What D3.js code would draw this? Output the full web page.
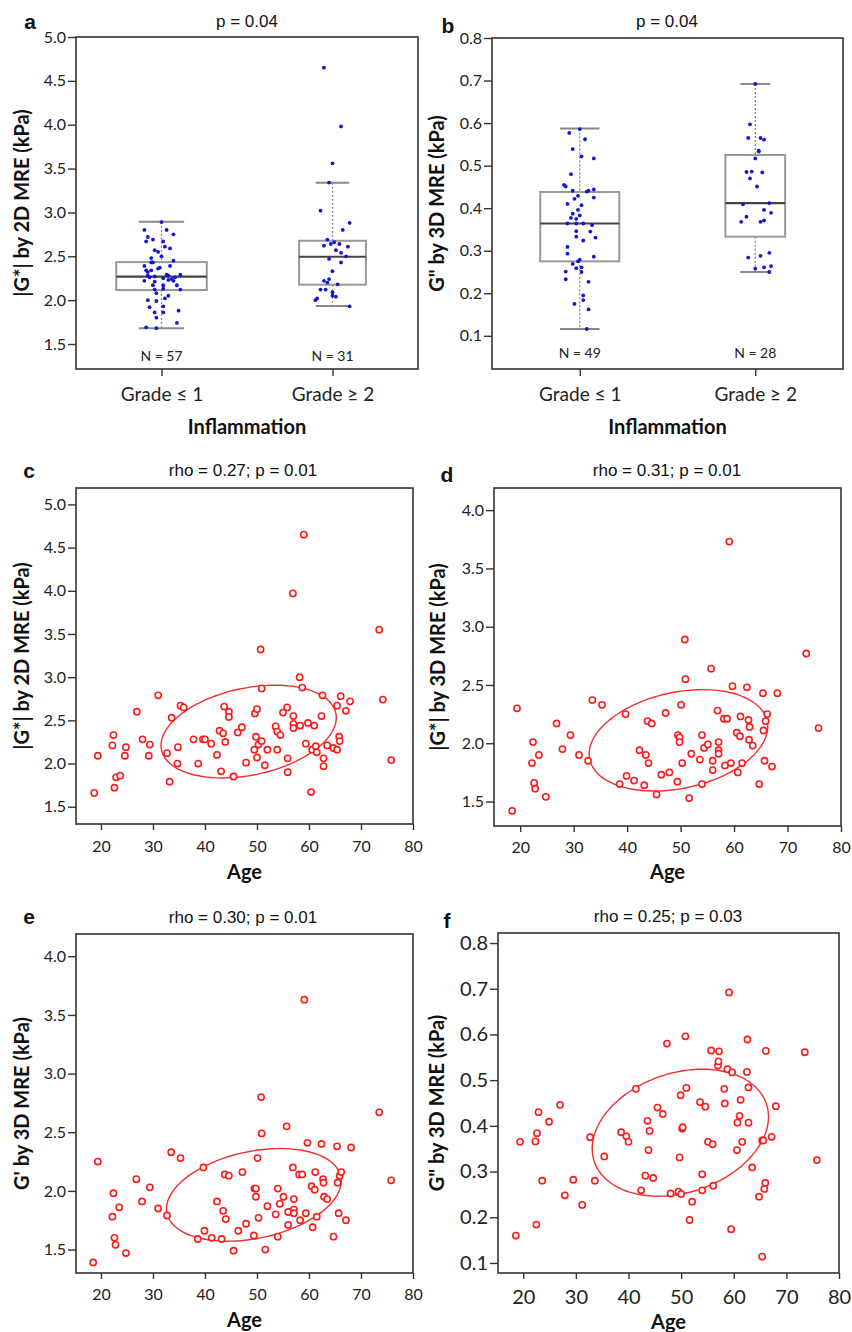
<!DOCTYPE html>
<html>
<head>
<meta charset="utf-8">
<script src="https://cdn.jsdelivr.net/npm/d3@7"></script>
<style>
  body { margin: 0; background: #fff; }
  .tick text { fill: #222; }
</style>
</head>
<body>
<div id="chart"></div>
<script>
// ---- DATA ----
const grades = ["Grade ≤ 1", "Grade ≥ 2"];

// panel a: |G*| by 2D MRE, jitter given as fraction of category step
const aLowVals = [2.89,2.80,2.80,2.75,2.72,2.67,2.69,2.67,2.61,2.59,2.57,2.55,2.50,2.48,2.45,2.43,2.43,2.39,2.37,2.36,2.39,2.34,2.32,2.34,2.28,2.27,2.29,2.28,2.29,2.26,2.26,2.24,2.22,2.25,2.23,2.22,2.17,2.17,2.17,2.12,2.13,2.12,2.08,2.05,2.02,2.00,1.99,1.92,1.93,1.86,1.88,1.86,1.80,1.74,1.69,1.68,2.21];
const aLowJit = [0.00,-0.10,0.03,0.07,-0.08,-0.09,-0.05,0.01,0.02,0.05,-0.04,-0.02,0.00,-0.06,0.07,-0.06,-0.05,-0.10,-0.01,-0.02,0.05,-0.09,-0.08,-0.06,-0.08,-0.04,0.03,0.04,0.11,0.08,-0.07,0.06,-0.10,0.01,0.04,0.07,-0.05,0.01,0.09,-0.04,0.01,0.11,-0.03,0.04,0.02,-0.08,-0.03,-0.07,0.01,-0.04,0.10,0.01,-0.03,0.09,-0.09,-0.03,-0.04];
const aHighVals = [4.65,3.98,3.56,3.34,3.02,2.88,2.80,2.69,2.64,2.66,2.64,2.62,2.61,2.57,2.54,2.50,2.47,2.43,2.33,2.24,2.22,2.20,2.18,2.12,2.12,2.09,2.05,2.04,2.02,2.00,1.93];
const aHighJit = [-0.05,0.05,0.00,-0.02,-0.07,0.10,0.06,-0.03,-0.01,0.01,0.04,-0.05,0.09,0.02,0.05,0.08,-0.02,0.05,0.00,-0.02,-0.05,-0.03,0.03,-0.07,-0.04,0.00,0.00,0.02,-0.09,-0.10,0.10];
// [whisker low, Q1, median, Q3, whisker high]
const aStats = [[1.68, 2.115, 2.267, 2.434, 2.893], [1.933, 2.176, 2.495, 2.677, 3.337]];

// panel b: G'' by 3D MRE
const bLowVals = [0.586,0.577,0.562,0.539,0.522,0.517,0.480,0.455,0.451,0.441,0.441,0.444,0.439,0.429,0.422,0.425,0.410,0.407,0.396,0.387,0.383,0.377,0.375,0.364,0.364,0.364,0.360,0.346,0.345,0.333,0.331,0.324,0.309,0.293,0.286,0.279,0.275,0.269,0.259,0.261,0.251,0.250,0.233,0.227,0.195,0.184,0.175,0.162,0.116];
const bLowJit = [0.00,-0.06,0.03,-0.04,0.01,0.08,-0.05,-0.09,-0.08,-0.04,0.05,0.08,0.04,-0.01,-0.03,0.08,-0.07,0.01,-0.01,-0.04,0.00,-0.05,-0.02,-0.07,-0.02,0.02,0.07,-0.02,0.06,-0.02,0.09,0.02,-0.07,-0.07,0.08,0.00,-0.01,-0.04,-0.02,0.01,-0.08,0.01,-0.08,0.05,0.02,0.02,-0.03,0.05,0.04];
const bHighVals = [0.692,0.597,0.565,0.565,0.561,0.535,0.533,0.517,0.485,0.486,0.484,0.470,0.451,0.409,0.412,0.380,0.396,0.389,0.368,0.368,0.371,0.284,0.288,0.295,0.258,0.261,0.264,0.250];
const bHighJit = [0.00,-0.03,-0.04,0.03,0.05,0.02,0.02,0.00,-0.05,-0.02,0.04,-0.03,0.01,-0.07,0.08,-0.05,0.05,0.09,-0.08,0.03,0.05,-0.04,0.03,0.08,0.00,0.05,0.09,0.08];
const bStats = [[0.116, 0.275, 0.364, 0.438, 0.587], [0.250, 0.333, 0.412, 0.525, 0.692]];

// panel c: age vs |G*| 2D
const agesC = [18.7,19.4,22.4,22.2,22.6,22.9,23.7,24.6,24.8,26.9,28.0,29.2,29.4,31.0,32.7,33.2,33.6,34.8,34.7,35.3,35.9,37.8,38.7,39.6,40.0,41.2,42.3,42.8,43.1,43.5,43.7,43.9,44.6,44.6,45.5,46.3,47.1,47.9,49.5,49.6,49.8,50.0,50.0,50.3,50.7,50.9,50.9,51.5,52.0,53.6,53.9,53.9,54.5,55.0,55.8,55.9,55.9,56.9,57.0,57.0,57.0,58.2,58.3,58.7,59.0,59.4,59.8,60.4,60.6,61.0,61.3,61.5,62.4,62.6,62.8,62.8,63.5,64.7,65.4,65.4,65.8,65.9,66.1,67.1,67.9,73.5,74.2,75.8];
const gC = [1.66,2.09,2.33,2.21,1.72,1.84,1.86,2.09,2.19,2.60,2.28,2.09,2.22,2.79,2.12,1.79,2.53,2.19,2.00,2.67,2.65,2.28,2.00,2.28,2.28,2.23,2.10,2.38,1.91,2.35,2.66,2.25,2.60,2.54,1.85,2.36,2.42,2.01,2.16,2.58,2.31,2.63,2.07,2.22,3.32,2.26,2.87,1.98,2.16,2.43,2.37,2.16,2.33,2.59,2.65,2.06,1.90,3.97,2.55,2.46,2.41,3.00,2.44,2.88,4.65,2.23,2.47,1.67,2.16,2.44,2.20,2.13,2.55,2.79,2.06,1.97,2.21,2.18,2.16,2.67,2.31,2.26,2.78,2.61,2.72,3.55,2.74,2.04];

// panels d, e: same patients (3D MRE)
const agesDE = [18.5,19.4,22.4,22.2,22.6,22.8,23.5,24.8,26.8,27.9,29.4,31.0,32.7,33.5,35.3,38.6,39.7,39.9,41.3,42.3,43.2,43.5,43.8,44.0,44.6,45.5,46.4,47.2,47.9,49.4,49.5,49.8,49.8,50.1,50.3,50.8,50.9,51.6,52.0,53.6,54.0,54.0,54.4,55.1,55.7,56.0,56.0,56.9,57.1,57.1,57.1,58.1,58.3,58.7,59.1,59.4,59.7,60.5,60.7,61.1,61.2,61.5,62.4,62.7,62.8,62.9,63.5,64.7,65.4,65.5,65.7,65.9,66.2,67.1,68.1,73.5,75.8];
const gD = [1.42,2.30,2.01,1.83,1.66,1.61,1.90,1.54,2.17,1.95,2.07,1.90,1.85,2.37,2.33,1.65,2.25,1.72,1.68,1.94,1.64,1.90,2.19,1.83,2.17,1.56,1.73,2.26,1.75,1.67,2.07,2.05,2.01,2.33,1.83,2.89,2.55,1.53,1.91,1.86,2.07,1.65,1.96,1.99,2.64,1.85,1.77,2.28,2.01,1.94,1.91,2.21,1.81,2.21,3.73,1.83,2.49,2.09,1.75,2.06,2.23,1.83,2.48,2.20,2.03,2.14,1.98,1.65,2.43,2.11,1.85,2.19,2.25,1.80,2.43,2.77,2.13];
const gE = [1.39,2.25,1.98,1.78,1.60,1.54,1.86,1.47,2.10,1.91,2.03,1.85,1.79,2.33,2.28,1.59,2.20,1.66,1.60,1.91,1.59,1.83,2.14,1.76,2.13,1.49,1.66,2.16,1.72,1.62,2.02,2.02,1.95,2.28,1.77,2.80,2.49,1.50,1.87,1.80,2.02,1.61,1.89,1.95,2.55,1.82,1.71,2.20,1.93,1.84,1.81,2.14,1.75,2.14,3.63,1.81,2.41,2.04,1.69,2.01,2.16,1.78,2.40,2.10,2.07,1.95,1.93,1.61,2.38,2.07,1.81,2.13,2.16,1.75,2.37,2.67,2.09];

// panel f
const agesF = [18.6,19.4,22.3,22.5,22.6,22.9,23.6,24.9,27.0,27.9,29.5,31.2,32.7,33.6,35.4,38.6,39.6,40.0,41.4,42.4,43.2,43.6,43.8,44.0,44.7,45.5,46.5,47.3,48.0,49.5,49.7,49.9,50.0,50.2,50.3,50.8,51.0,51.6,52.1,53.6,54.0,54.0,54.6,55.1,55.7,56.0,56.1,57.0,57.1,57.2,58.2,58.3,58.8,59.1,59.5,59.7,60.6,60.7,61.1,61.3,61.6,62.5,62.6,62.8,62.8,63.5,64.8,65.4,65.4,65.6,65.8,66.0,66.1,67.2,68.0,73.5,75.8];
const gF = [0.160,0.365,0.366,0.184,0.384,0.430,0.280,0.409,0.446,0.248,0.282,0.227,0.375,0.280,0.333,0.386,0.377,0.365,0.481,0.259,0.291,0.411,0.347,0.389,0.286,0.440,0.426,0.580,0.252,0.256,0.331,0.467,0.251,0.394,0.397,0.596,0.483,0.194,0.234,0.452,0.294,0.259,0.442,0.365,0.565,0.360,0.269,0.532,0.541,0.563,0.481,0.449,0.524,0.692,0.174,0.517,0.347,0.407,0.422,0.457,0.365,0.518,0.589,0.484,0.407,0.309,0.245,0.114,0.368,0.368,0.262,0.275,0.564,0.376,0.443,0.561,0.325];

// ellipses: [centre age, centre value, age radius, value radius, correlation]
const ellC = [48.4, 2.37, 16.85, 0.537, 0.30];
const ellD = [49.6, 2.025, 16.7, 0.435, 0.27];
const ellE = [49.4, 1.966, 16.8, 0.395, 0.30];
const ellF = [49.85, 0.385, 16.75, 0.139, 0.25];

const ageTicks = [20, 30, 40, 50, 60, 70, 80];
const ticksA = [1.5, 2.0, 2.5, 3.0, 3.5, 4.0, 4.5, 5.0];
const ticksB = [0.1, 0.2, 0.3, 0.4, 0.5, 0.6, 0.7, 0.8];
const ticksDE = [1.5, 2.0, 2.5, 3.0, 3.5, 4.0];

// ---- DRAW ----
const width = 852, height = 1332;
const svg = d3.select("#chart").append("svg")
    .attr("width", width).attr("height", height)
    .style("font-family", "Lato, 'Open Sans', sans-serif");

const ink = "#333";
const titleFont = "'Liberation Sans', Arial, sans-serif";

function decorate(p) {
    const [l, t, r, b] = p.frame;
    // frame
    svg.append("rect")
        .attr("x", l).attr("y", t).attr("width", r - l).attr("height", b - t)
        .attr("fill", "none").attr("stroke", ink).attr("stroke-width", 1.6);
    // title + letter
    svg.append("text").attr("x", p.titleX).attr("y", p.titleY)
        .attr("text-anchor", "middle").style("font-family", titleFont)
        .style("font-size", "17px").attr("fill", "#111").text(p.title);
    svg.append("text").attr("x", p.letterX).attr("y", p.letterY)
        .attr("text-anchor", "middle").style("font-family", titleFont)
        .style("font-size", "21px").style("font-weight", "bold").attr("fill", "#111").text(p.letter);
    // axis titles
    svg.append("text")
        .attr("transform", `translate(${p.yLabelX},${(t + b) / 2}) rotate(-90)`)
        .attr("dy", "0.35em").attr("text-anchor", "middle")
        .style("font-size", "20px").style("font-weight", "bold").attr("fill", "#111")
        .text(p.yLabel);
    svg.append("text").attr("x", (l + r) / 2).attr("y", p.xLabelY)
        .attr("text-anchor", "middle")
        .style("font-size", "20px").style("font-weight", "bold").attr("fill", "#111")
        .text(p.xLabel);
}

function styleAxis(a, size) {
    a.select(".domain").remove();
    a.selectAll("line").attr("stroke", ink).attr("stroke-width", 1.4);
    a.selectAll("text").style("font-size", size + "px").style("font-family", "Lato, 'Open Sans', sans-serif");
}

function boxPanel(p) {
    const [l, t, r, b] = p.frame;
    const x = d3.scalePoint().domain(grades).range([l, r]).padding(0.5);
    const y = d3.scaleLinear().domain(p.yDomain).range([b, t]);
    const step = x.step();

    svg.append("g").attr("transform", `translate(${l},0)`)
        .call(d3.axisLeft(y).tickValues(p.yTicks).tickFormat(d3.format(".1f")).tickSize(8).tickPadding(2))
        .call(a => styleAxis(a, 16));
    svg.append("g").attr("transform", `translate(0,${b})`)
        .call(d3.axisBottom(x).tickSize(7).tickPadding(12))
        .call(a => styleAxis(a, 19));

    p.groups.forEach((grp, i) => {
        const cx = x(grades[i]);
        const n = grp.vals.length;
        const bw = p.boxK * Math.sqrt(n);
        const [lo, q1, med, q3, hi] = grp.stats;
        const g = svg.append("g");
        // dotted whiskers
        [[hi, q3], [q1, lo]].forEach(([a, c]) => {
            g.append("line").attr("x1", cx).attr("x2", cx).attr("y1", y(a)).attr("y2", y(c))
                .attr("stroke", "#888").attr("stroke-width", 1.3).attr("stroke-dasharray", "2,2");
        });
        // caps
        [lo, hi].forEach(v => {
            g.append("line").attr("x1", cx - bw / 4).attr("x2", cx + bw / 4)
                .attr("y1", y(v)).attr("y2", y(v))
                .attr("stroke", "#888").attr("stroke-width", 2);
        });
        // box
        g.append("rect").attr("x", cx - bw / 2).attr("y", y(q3))
            .attr("width", bw).attr("height", y(q1) - y(q3))
            .attr("fill", "none").attr("stroke", "#999").attr("stroke-width", 2);
        g.append("line").attr("x1", cx - bw / 2).attr("x2", cx + bw / 2)
            .attr("y1", y(med)).attr("y2", y(med))
            .attr("stroke", "#444").attr("stroke-width", 2.2);
        // jittered points
        g.selectAll("circle").data(grp.vals).enter().append("circle")
            .attr("cx", (d, j) => cx + grp.jit[j] * step)
            .attr("cy", d => y(d))
            .attr("r", 1.9)
            .attr("fill", "#1414d8");
        // N label
        g.append("text").attr("x", cx).attr("y", p.nY).attr("text-anchor", "middle")
            .style("font-size", "14px").attr("fill", "#222").text("N = " + n);
    });
    decorate(p);
}

function scatterPanel(p) {
    const [l, t, r, b] = p.frame;
    const x = d3.scaleLinear().domain(p.xDomain).range([l, r]);
    const y = d3.scaleLinear().domain(p.yDomain).range([b, t]);

    svg.append("g").attr("transform", `translate(${l},0)`)
        .call(d3.axisLeft(y).tickValues(p.yTicks).tickFormat(d3.format(".1f")).tickSize(8).tickPadding(2))
        .call(a => styleAxis(a, p.tickFont));
    svg.append("g").attr("transform", `translate(0,${b})`)
        .call(d3.axisBottom(x).tickValues(ageTicks).tickSize(6).tickPadding(p.xPad))
        .call(a => styleAxis(a, p.tickFont));

    // ellipse
    const [ecx, ecy, erx, ery, rho] = p.ellipse;
    const delta = Math.acos(rho);
    const ts = d3.range(0, 2 * Math.PI + 0.01, Math.PI / 60);
    const line = d3.line()
        .x(tt => x(ecx + erx * Math.cos(tt)))
        .y(tt => y(ecy + ery * Math.cos(tt - delta)))
        .curve(d3.curveCardinalClosed);
    svg.append("path").attr("d", line(ts.slice(0, -1)))
        .attr("fill", "none").attr("stroke", "#f03030").attr("stroke-width", 1.4);

    svg.append("g").selectAll("circle")
        .data(p.vals).enter().append("circle")
        .attr("cx", (d, i) => x(p.ages[i]))
        .attr("cy", d => y(d))
        .attr("r", 3.1)
        .attr("fill", "#fff")
        .attr("stroke", "#ff1a1a")
        .attr("stroke-width", 1.6);

    decorate(p);
}

// ---- PANELS ----
boxPanel({
    frame: [76, 37, 418, 369], yDomain: [1.215, 5.0], yTicks: ticksA, boxK: 12,
    groups: [
        { vals: aLowVals, jit: aLowJit, stats: aStats[0] },
        { vals: aHighVals, jit: aHighJit, stats: aStats[1] }
    ],
    nY: 361, title: "p = 0.04", titleX: 247, titleY: 27, letter: "a", letterX: 30, letterY: 29,
    yLabel: "|G*| by 2D MRE (kPa)", yLabelX: 22, xLabel: "Inflammation", xLabelY: 434
});

boxPanel({
    frame: [492, 38, 843, 369], yDomain: [0.022, 0.8], yTicks: ticksB, boxK: 11.3,
    groups: [
        { vals: bLowVals, jit: bLowJit, stats: bStats[0] },
        { vals: bHighVals, jit: bHighJit, stats: bStats[1] }
    ],
    nY: 358, title: "p = 0.04", titleX: 667, titleY: 27, letter: "b", letterX: 448, letterY: 33,
    yLabel: "G\" by 3D MRE (kPa)", yLabelX: 437, xLabel: "Inflammation", xLabelY: 434
});

scatterPanel({
    frame: [76, 488, 413, 824], xDomain: [15.2, 80], yDomain: [1.30, 5.19], yTicks: ticksA,
    ages: agesC, vals: gC, ellipse: ellC, tickFont: 16, xPad: 11,
    title: "rho = 0.27; p = 0.01", titleX: 243, titleY: 476, letter: "c", letterX: 29, letterY: 478,
    yLabel: "|G*| by 2D MRE (kPa)", yLabelX: 22, xLabel: "Age", xLabelY: 879
});

scatterPanel({
    frame: [494, 488, 841, 826], xDomain: [15.1, 80], yDomain: [1.29, 4.19], yTicks: ticksDE,
    ages: agesDE, vals: gD, ellipse: ellD, tickFont: 16, xPad: 10,
    title: "rho = 0.31; p = 0.01", titleX: 667, titleY: 476, letter: "d", letterX: 447, letterY: 482,
    yLabel: "|G*| by 3D MRE (kPa)", yLabelX: 438, xLabel: "Age", xLabelY: 879
});

scatterPanel({
    frame: [76, 934, 413, 1273], xDomain: [15.2, 80], yDomain: [1.30, 4.19], yTicks: ticksDE,
    ages: agesDE, vals: gE, ellipse: ellE, tickFont: 16, xPad: 10,
    title: "rho = 0.30; p = 0.01", titleX: 243, titleY: 923, letter: "e", letterX: 29, letterY: 924,
    yLabel: "G' by 3D MRE (kPa)", yLabelX: 22, xLabel: "Age", xLabelY: 1327
});

scatterPanel({
    frame: [498, 933, 839, 1273], xDomain: [15.2, 80], yDomain: [0.078, 0.822], yTicks: ticksB,
    ages: agesF, vals: gF, ellipse: ellF, tickFont: 20, xPad: 11,
    title: "rho = 0.25; p = 0.03", titleX: 668, titleY: 922, letter: "f", letterX: 447, letterY: 928,
    yLabel: "G\" by 3D MRE (kPa)", yLabelX: 437, xLabel: "Age", xLabelY: 1329
});
</script>
</body>
</html>
